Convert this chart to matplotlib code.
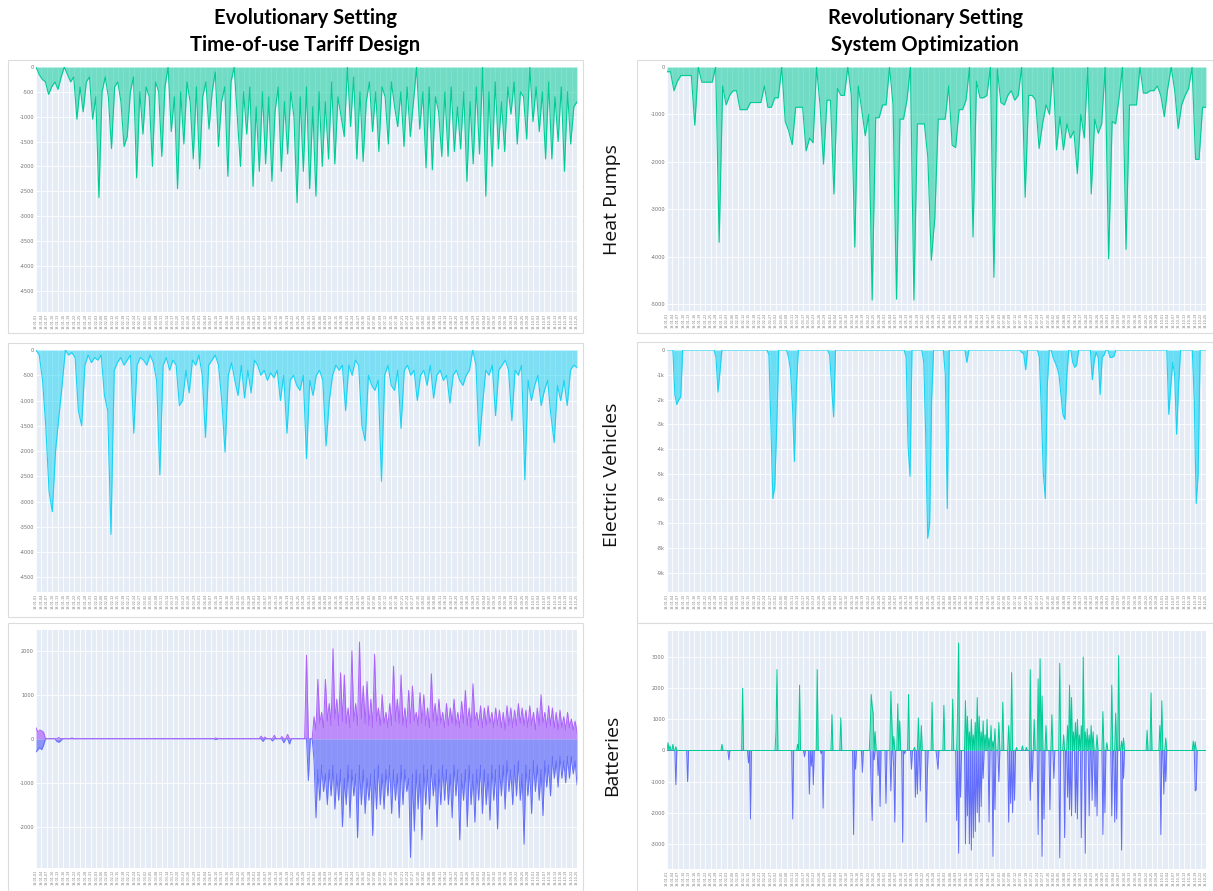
import numpy as np
import pandas as pd
import matplotlib
matplotlib.use('Agg')
import matplotlib.pyplot as plt
from matplotlib.patches import Rectangle

W, H = 1213, 891

# ---- heat pumps, evolutionary setting (kW)
hp_evo = [0, -150, -250, -300, -550, -400, -300, -450, -200, 0, -150, -300, -200, -1050, -400,
          -900, -300, -200, -1050, -600, -2630, -500, -200, -600, -1640, -400, -300, -700, -1600,
          -1400, -500, -200, -2230, -500, -1350, -400, -600, -2000, -300, -500, -1800, -400, 0,
          -1300, -600, -2450, -500, -1550, -300, -700, -1850, -400, -2050, -600, -300, -1250, -500,
          -100, -1600, -700, -400, -2200, -300, 0, -1000, -2000, -500, -1350, -400, -2400, -800,
          -2100, -500, -1950, -600, -2300, -900, -400, -2100, -700, -1750, -500, -1000, -2730, -600,
          -2100, -400, -2450, -800, -2600, -500, -2000, -700, -1850, -300, -1950, -600, -1000, -1400,
          0, -1200, -200, -1850, -500, -1900, -700, -300, -1300, -500, -1700, -400, -600, -1550, -300,
          -800, -1200, -500, -1600, -400, -1400, -700, 0, -1250, -500, -2030, -400, -2070, -600, -900,
          -1800, -500, -1800, -400, -1700, -800, -1650, -500, -2300, -700, -1950, -400, -1750, 0,
          -2600, -500, -2000, -300, -1650, -700, -1700, -400, -950, -300, -1550, -500, -600, -1450, 0,
          -1100, -400, -1300, -500, -1850, -300, -1850, -600, -1500, -400, -2100, -500, -1550, -800, -700]

# ---- heat pumps, system optimization (kW)
hp_opt = [-100, -100, -500, -300, -180, -180, -180, -180, -1230, 0, -320, -320, -320, -320, 0, -3700,
          -400, -800, -600, -500, -500, -900, -900, -900, -750, -750, -750, -750, -400, -850, -850,
          -650, -650, 0, -1150, -1350, -1640, -850, -850, -850, -1770, -1500, -1600, 0, -800, -2050,
          -700, -700, -2680, -450, -600, -600, 0, -600, -3800, -400, -900, -1450, -1000, -4920, -1070,
          -1070, -800, -800, 0, -800, -4900, -1100, -1100, -700, 0, -4920, -1200, -1200, -1200, -1900,
          -4080, -3200, -1100, -1100, -1100, -400, -1650, -1700, -900, -900, -700, 0, -3590, -300, -650,
          -650, -600, 0, -4440, -50, -750, -800, -600, -500, -700, -600, 0, -2750, -600, -600, -700,
          -1720, -1200, -800, -1000, 0, -1750, -1050, -1750, -1200, -1500, -1350, -2250, -1000, -1500,
          0, -2680, -1100, -1400, -1200, 0, -4050, -1150, -1200, -650, 0, -3850, -800, -800, -800, 0,
          -550, -550, -500, -500, -400, -600, -1050, -450, 0, -500, -1300, -800, -600, -450, 0, -1950,
          -1950, -850, -850]

# ---- electric vehicles, evolutionary setting (kW)
ev_evo = [0, -100, -600, -1500, -2800, -3200, -2000, -1330, -700, 0, -100, -50, -150, -1200, -1500,
          -300, -100, -250, -150, -200, -100, -900, -1200, -3650, -400, -250, -150, -300, -200, -100,
          -1650, -300, -150, -200, -300, -100, -250, -600, -2470, -300, -150, -400, -200, -300, -1100,
          -1000, -400, -850, -200, -300, -100, -500, -1730, -300, -200, -100, -300, -1000, -2020, -500,
          -250, -600, -900, -300, -950, -400, -850, -200, -300, -500, -400, -600, -450, -550, -400,
          -1000, -500, -1650, -600, -500, -700, -800, -500, -2150, -600, -900, -500, -400, -600, -1900,
          -1000, -500, -300, -400, -300, -1200, -300, -500, -200, -300, -1500, -1800, -500, -700, -800,
          -600, -2600, -500, -300, -700, -800, -400, -1550, -400, -300, -500, -400, -1000, -500, -400,
          -700, -300, -950, -500, -400, -600, -500, -1050, -500, -400, -600, -700, -500, -400, 0, -300,
          -1900, -1100, -400, -500, -300, -1300, -400, -300, -200, -400, -1400, -400, -500, -300, -2570,
          -600, -1000, -700, -500, -1100, -800, -600, -1300, -1830, -700, -1000, -600, -1100, -400,
          -300, -350]

# ---- electric vehicles, system optimization: zero except at these time steps (kW)
ev_opt_len = 276
ev_opt_step = [4, 5, 6, 7, 25, 26, 27, 52, 53, 54, 55, 56, 62, 63, 64, 65, 66, 83, 84, 85,
               122, 123, 124, 131, 132, 133, 134, 135, 142, 143, 153, 181, 182, 183,
               190, 191, 192, 193, 194, 197, 198, 199, 200, 201, 202, 203, 204, 207, 208, 209,
               217, 218, 219, 220, 221, 222, 223, 226, 227, 228, 256, 257, 258, 259, 260, 261,
               269, 270, 271]
ev_opt_kw = [-1800, -2200, -2000, -1900, -300, -1700, -900, -200, -3000, -6000, -5500, -3000,
             -300, -800, -2200, -4500, -1500, -200, -1500, -2700, -300, -3900, -5100,
             -500, -3500, -7600, -7000, -2000, -1000, -6400, -500, -100, -150, -800,
             -300, -2500, -5000, -6000, -1500, -300, -500, -700, -1000, -1800, -2600, -2800, -1000,
             -500, -700, -600, -1200, -400, -100, -300, -1800, -300, -200, -300, -300, -250,
             -2600, -1500, -500, -1000, -3400, -1500, -2000, -6200, -5000]

# ---- batteries, evolutionary setting
batt_evo_len = 287
be_pos_step = [0, 1, 2, 3, 4, 12, 19, 95, 119, 121, 126, 130, 133, 143]
be_pos_kw = [250, 150, 200, 180, 150, 30, 20, 20, 60, 40, 80, 50, 100, 1900]
be_neg_step = [0, 1, 2, 3, 4, 11, 12, 13, 95, 120, 125, 131, 134, 144]
be_neg_kw = [-300, -250, -200, -250, -150, -60, -80, -50, -20, -60, -50, -90, -120, -950]
dense_start = 147
charge_peaks = [500, 1350, 600, 1350, 800, 2050, 900, 1500, 1450, 700, 2000, 800, 2200, 1200, 1300,
                900, 1920, 700, 1000, 600, 800, 1650, 900, 1450, 700, 1100, 1200, 600, 1050, 1000,
                700, 1480, 800, 900, 600, 800, 700, 900, 600, 850, 1100, 700, 1250, 600, 750,
                700, 750, 600, 700, 650, 600, 750, 700, 650, 800, 700, 650, 750, 600, 700,
                1000, 600, 750, 700, 600, 650, 500, 600, 450, 400]
charge_lows = [200, 350, 250, 400, 300, 450, 300, 400, 350, 250, 400, 300, 450, 350, 300,
               250, 400, 300, 350, 250, 300, 400, 350, 300, 250, 350, 400, 300, 350, 300,
               250, 400, 300, 350, 250, 300, 350, 300, 250, 350, 300, 250, 400, 300, 250,
               300, 350, 250, 300, 250, 200, 300, 250, 300, 350, 300, 250, 300, 200, 300,
               350, 250, 300, 250, 200, 250, 200, 250, 200, 150]
discharge_peaks = [-1800, -1400, -1200, -1500, -1300, -1600, -1400, -2000, -1500, -1800,
                   -1300, -2250, -1500, -1700, -1400, -2200, -1600, -1500, -1600, -1300,
                   -1700, -1400, -1800, -1500, -1200, -2700, -2100, -1600, -2300, -1500,
                   -1600, -1300, -2000, -1500, -1400, -1500, -1800, -1300, -2300, -1400,
                   -2000, -1500, -1900, -1400, -1700, -1500, -1850, -1400, -2050, -1300,
                   -1600, -1200, -1500, -1300, -1400, -2400, -1300, -1700, -1200, -1400,
                   -1750, -1100, -1300, -900, -1100, -900, -1000, -900, -800, -1050]
discharge_lows = [-500, -700, -600, -800, -700, -600, -800, -700, -900, -600,
                  -700, -800, -600, -700, -900, -800, -700, -600, -800, -700,
                  -600, -700, -800, -600, -700, -900, -800, -700, -800, -600,
                  -700, -600, -800, -700, -600, -700, -800, -600, -700, -800,
                  -700, -600, -800, -700, -600, -700, -800, -600, -700, -600,
                  -600, -500, -700, -600, -500, -800, -600, -700, -500, -600,
                  -700, -500, -600, -400, -500, -400, -500, -400, -400, -500]

# ---- batteries, system optimization: zero except at these time steps
batt_opt_len = 550
bo_pos_step = [1, 3, 6, 9, 56, 77, 111, 112, 133, 135, 153, 168, 177, 207, 208, 209, 210, 212,
               228, 229, 231, 235, 237, 246, 252, 256, 259, 270, 282, 291, 296, 297,
               304, 306, 308, 310, 312, 314, 316, 318, 320, 322, 324, 326, 328, 330, 332, 334,
               338, 342, 348, 351, 356, 362, 366, 370, 374, 378, 380, 382, 386, 392, 400, 404,
               408, 410, 412, 414, 416, 418, 420, 422, 424, 426, 428, 430, 432, 434,
               438, 444, 448, 453, 457, 460, 463, 465, 489, 493, 502, 504, 508, 536, 538]
bo_pos_kw = [250, 150, 200, 120, 200, 2000, 600, 2600, 200, 2100, 2600, 1150, 1050, 700, 1800,
             1400, 1200, 600, 1900, 900, 450, 1500, 950, 1800, 100, 1050, 800, 1550, 1450, 1650,
             1300, 3450, 1600, 1100, 600, 1000, 500, 900, 1700, 1100, 600, 950, 500, 1000, 400,
             800, 300, 700, 900, 1550, 800, 2500, 100, 150, 100, 2600, 1000, 2300, 2950, 1750,
             800, 1150, 2800, 500, 800, 2100, 1700, 600, 900, 1000, 500, 800, 3000, 600, 700,
             500, 800, 600, 500, 1250, 250, 2100, 1200, 3050, 300, 400, 650, 1850, 800, 1600,
             400, 300, 280]
bo_neg_step = [9, 21, 63, 83, 85, 128, 140, 145, 147, 149, 157, 159, 190, 192, 199, 208, 209, 211,
               215, 217, 223, 228, 231, 232, 240, 242, 249, 253, 255, 258, 264, 265, 275, 276,
               295, 297, 299, 304, 306, 308, 310, 312, 314, 316, 318, 320, 322, 328, 332, 334,
               338, 348, 350, 352, 354, 370, 372, 378, 382, 384, 390, 394, 400, 405, 408,
               410, 412, 416, 418, 422, 426, 430, 433, 436, 438, 444, 446, 453, 456, 458, 463,
               465, 503, 506, 508, 538, 539]
bo_neg_kw = [-1100, -1000, -300, -400, -2200, -2200, -200, -1400, -500, -1100, -100, -1850,
             -2700, -600, -700, -1300, -2250, -300, -800, -1800, -1700, -1300, -600, -2300,
             -2950, -100, -600, -1500, -1400, -1300, -2300, -900, -300, -600, -2250, -3300,
             -1500, -3000, -2100, -3000, -3200, -2800, -2600, -2000, -2300, -1800, -900, -2300,
             -3400, -1900, -1000, -2300, -1700, -2000, -1600, -1600, -1000, -2700, -3400, -2200,
             -1900, -900, -3450, -2800, -1500, -1900, -2100, -2000, -2200, -2800, -3300, -2100,
             -1600, -1800, -2100, -2700, -2000, -2100, -2300, -2200, -3200, -900, -2700, -1400,
             -1000, -1300, -1250]

n_xticks = 100
xtick_labels = pd.date_range('2019-01-01', periods=n_xticks, freq='3D').strftime('%y-%m-%d')

GREEN = '#00CC96'
CYAN = '#19D3F3'
PURPLE = '#AB63FA'
BLUE = '#636EFA'


def box(x0, y0, x1, y1):
    # pixel box (top-left origin) -> figure fraction rect
    return [x0 / W, 1 - y1 / H, (x1 - x0) / W, (y1 - y0) / H]


def sparse(length, steps, vals):
    arr = np.zeros(length)
    arr[steps] = vals
    return arr


def style(ax, n, ylim, yticks, ylabels):
    ax.set_facecolor('#E5ECF6')
    for s in ax.spines.values():
        s.set_visible(False)
    ax.set_xlim(0, n - 1)
    ax.set_ylim(*ylim)
    ax.set_xticks(np.linspace(0, n - 1, n_xticks))
    ax.set_xticklabels(xtick_labels, rotation=90, fontsize=2.4, color='#808080')
    ax.set_yticks(yticks)
    ax.set_yticklabels(ylabels, fontsize=3.6, color='#707070')
    ax.tick_params(length=0, pad=1.5)
    ax.grid(True, color='white', lw=0.6)
    ax.set_axisbelow(True)


def area(ax, values, color, alpha=0.5, lw=0.8):
    x = np.arange(len(values))
    ax.fill_between(x, values, 0, color=color, alpha=alpha, lw=0)
    ax.plot(x, values, color=color, lw=lw)


fig = plt.figure(figsize=(W / 100, H / 100), dpi=100)

# screenshot frames (behind the axes)
for fx0, fy0, fx1, fy1 in [(8, 60, 583, 333), (8, 343, 583, 617), (8, 623, 583, 891),
                           (637, 60, 1213, 333), (637, 342, 1213, 623), (637, 623, 1213, 891)]:
    r = box(fx0, fy0, fx1, fy1)
    fig.add_artist(Rectangle((r[0], r[1]), r[2], r[3], transform=fig.transFigure,
                             facecolor='white', edgecolor='#dcdcdc', lw=0.8, zorder=-5))

k500 = [0, -500, -1000, -1500, -2000, -2500, -3000, -3500, -4000, -4500]

ax = fig.add_axes(box(36, 67, 577, 312))
area(ax, hp_evo, GREEN)
style(ax, len(hp_evo), (-4930, 0), k500, [str(v) for v in k500])

ax = fig.add_axes(box(667, 67, 1206, 311))
area(ax, hp_opt, GREEN)
ticks = [0, -1000, -2000, -3000, -4000, -5000]
style(ax, len(hp_opt), (-5150, 0), ticks, [str(v) for v in ticks])

ax = fig.add_axes(box(36, 350, 577, 592))
area(ax, ev_evo, CYAN)
style(ax, len(ev_evo), (-4790, 0), k500, [str(v) for v in k500])

ax = fig.add_axes(box(667, 350, 1206, 592))
area(ax, sparse(ev_opt_len, ev_opt_step, ev_opt_kw), CYAN, alpha=0.6)
ticks = [0, -1000, -2000, -3000, -4000, -5000, -6000, -7000, -8000, -9000]
style(ax, ev_opt_len, (-9770, 0), ticks, ['0'] + ['%dk' % (v // 1000) for v in ticks[1:]])

# batteries evolutionary: early sparse events + dense alternating period
be_pos = sparse(batt_evo_len, be_pos_step, be_pos_kw)
be_neg = sparse(batt_evo_len, be_neg_step, be_neg_kw)
be_pos[dense_start::2] = charge_peaks
be_pos[dense_start + 1::2] = charge_lows
be_neg[dense_start + 1::2] = discharge_peaks
be_neg[dense_start::2] = discharge_lows
ax = fig.add_axes(box(36, 630, 577, 868))
area(ax, be_neg, BLUE, alpha=0.7, lw=0.7)
area(ax, be_pos, PURPLE, alpha=0.7, lw=0.7)
ticks = [-2000, -1000, 0, 1000, 2000]
style(ax, batt_evo_len, (-2940, 2474), ticks, [str(v) for v in ticks])

ax = fig.add_axes(box(667, 631, 1206, 869))
area(ax, sparse(batt_opt_len, bo_neg_step, bo_neg_kw), BLUE, lw=0.7)
area(ax, sparse(batt_opt_len, bo_pos_step, bo_pos_kw), GREEN, lw=0.7)
ticks = [-3000, -2000, -1000, 0, 1000, 2000, 3000]
style(ax, batt_opt_len, (-3806, 3838), ticks, [str(v) for v in ticks])

# column titles
for cx, l1, l2 in [(305, 'Evolutionary Setting', 'Time-of-use Tariff Design'),
                   (925, 'Revolutionary Setting', 'System Optimization')]:
    fig.text(cx / W, 1 - 18 / H, l1, ha='center', va='center', fontsize=14.5,
             fontweight='bold', family='Lato')
    fig.text(cx / W, 1 - 45 / H, l2, ha='center', va='center', fontsize=14.5,
             fontweight='bold', family='Lato')

# row labels
for cy, lab in [(200, 'Heat Pumps'), (475, 'Electric Vehicles'), (755, 'Batteries')]:
    fig.text(612 / W, 1 - cy / H, lab, rotation=90, ha='center', va='center',
             fontsize=14, family='Open Sans', color='#111111')

fig.savefig('out.png', dpi=100)
